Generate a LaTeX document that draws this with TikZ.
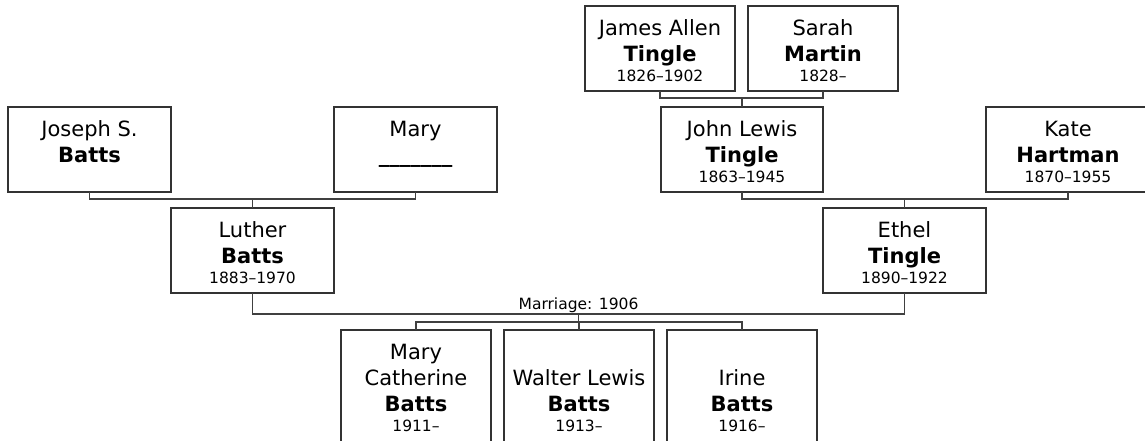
\documentclass[tikz,border=0pt]{standalone}
\usepackage{fontspec}
\setmainfont{DejaVu Sans}
\usetikzlibrary{calc}

\begin{document}
\begin{tikzpicture}[x=1pt, y=-1pt,
    person/.style={draw=black!80, line width=1.3pt, inner sep=0pt,
                   outer sep=0pt, anchor=north west},
    names/.style={anchor=north, align=center, inner sep=0pt,
                  font=\fontsize{21}{26}\selectfont},
    link/.style={draw=black!75, line width=1.3pt},
    note/.style={font=\fontsize{15.5}{18}\selectfont, inner sep=1pt}]
  \useasboundingbox (0,0) rectangle (1145,441);
  \clip (0,0) rectangle (1145,441);

  % Person boxes: id/x/y/width/height/given names/surname/dates
  \foreach \id/\x/\y/\w/\h/\first/\last/\dates in {
      jb/8/107/163/85/{Joseph S.}/Batts/{},
      mu/334/107/163/85/Mary/{\_\_\_\_\_\_\_}/{},
      lb/171/208/163/85/Luther/Batts/1883–1970,
      jt/585/6/150/85/{James Allen}/Tingle/1826–1902,
      sm/748/6/150/85/Sarah/Martin/1828–,
      jl/661/107/162/85/{John Lewis}/Tingle/1863–1945,
      kh/986/107/164/85/Kate/Hartman/1870–1955,
      et/823/208/163/85/Ethel/Tingle/1890–1922,
      mc/341/330/150/130/{Mary\\Catherine}/Batts/1911–,
      wl/504/330/150/130/{\\Walter Lewis}/Batts/1913–,
      ib/667/330/150/130/{\\Irine}/Batts/1916–} {
    \node[person, minimum width=\w pt, minimum height=\h pt] (\id) at (\x,\y) {};
    \node[names] at ([yshift=-13.5pt]\id.north)
      {\rule{0pt}{16pt}\first\\\textbf{\last}\\[-6pt]{\fontsize{15.5}{20}\selectfont\dates}};
  }

  % Parents to child
  \foreach \a/\b/\c in {jb/mu/lb, jt/sm/jl, jl/kh/et} {
    \draw[link] (\a.south) -- ++(0,7) -| (\b.south);
    \draw[link] (\c.north) -- ++(0,-9);
  }

  % Marriage and children
  \draw[link] (lb.south) -- ++(0,21) -| (et.south);
  \coordinate (wed) at ($(lb.south)!.5!(et.south)+(0,21)$);
  \node[note, anchor=south] (marr) at (wed) {Marriage: 1906};
  \draw[link] (wed) -- ++(0,8) coordinate (kids);
  \draw[link] (mc.north) |- (kids) -| (ib.north);
  \draw[link] (wl.north) -- (wl.north |- kids);
\end{tikzpicture}
\end{document}
